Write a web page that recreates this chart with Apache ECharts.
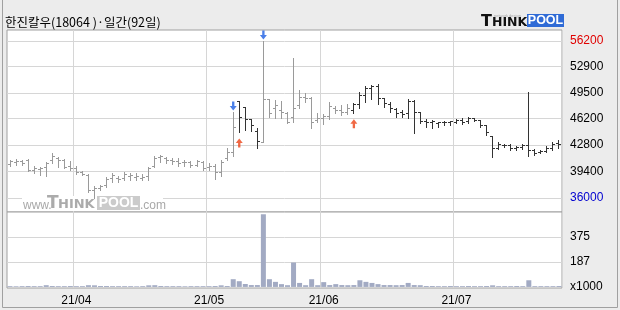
<!DOCTYPE html>
<html><head><meta charset="utf-8">
<script src="https://cdn.jsdelivr.net/npm/echarts@6/dist/echarts.min.js"></script>
<style>html,body{margin:0;padding:0;background:#ececec}#c{width:620px;height:310px}</style>
</head><body><div id="c"></div>
<script>
const title = '한진칼우(18064 )·일간(92일)';
const dates = [
 '21/03/17','21/03/18','21/03/19','21/03/22','21/03/23','21/03/24','21/03/25','21/03/26','21/03/29','21/03/30','21/03/31',
 '21/04/01','21/04/02','21/04/05','21/04/06','21/04/07','21/04/08','21/04/09','21/04/12','21/04/13','21/04/14','21/04/15','21/04/16','21/04/19','21/04/20','21/04/21','21/04/22','21/04/23','21/04/26','21/04/27','21/04/28','21/04/29','21/04/30',
 '21/05/03','21/05/04','21/05/06','21/05/07','21/05/10','21/05/11','21/05/12','21/05/13','21/05/14','21/05/17','21/05/18','21/05/20','21/05/21','21/05/24','21/05/25','21/05/26','21/05/27','21/05/28','21/05/31',
 '21/06/01','21/06/02','21/06/03','21/06/04','21/06/07','21/06/08','21/06/09','21/06/10','21/06/11','21/06/14','21/06/15','21/06/16','21/06/17','21/06/18','21/06/21','21/06/22','21/06/23','21/06/24','21/06/25','21/06/28','21/06/29','21/06/30',
 '21/07/01','21/07/02','21/07/05','21/07/06','21/07/07','21/07/08','21/07/09','21/07/12','21/07/13','21/07/14','21/07/15','21/07/16','21/07/19','21/07/20','21/07/21','21/07/22','21/07/23','21/07/26'
];
const open = [
 40400,40650,40750,40900,39600,39750,40000,40900,41150,40900,
 40100,39850,39350,38950,37050,37300,37650,38550,38550,38550,
 38850,38700,38550,38850,40100,41300,41150,40900,40750,40650,
 40650,40250,40650,40000,40100,39350,41150,41900,48500,47700,
 46150,44600,43200,48750,47600,47350,46950,46400,47950,49000,
 48850,46050,46300,46550,47600,47350,47050,47350,48100,49250,
 50150,50400,48850,48100,47450,47050,46950,48500,47050,45900,
 45800,45650,45800,45800,45800,46050,45900,46300,46050,45400,
 44000,42450,42800,42800,42450,42550,42800,42200,41900,42050,
 42450,43100
];
const high = [
 40900,41000,40900,41000,40100,40000,40650,41800,41300,41000,
 40750,40100,39450,39100,37550,37650,38700,39200,38850,39350,
 39200,39200,39100,40000,41400,41550,41300,41150,41150,40900,
 40750,40900,40750,40500,40400,40900,42450,47050,48500,47700,
 46150,45000,56200,48750,48600,48500,47050,54000,49900,49500,
 49000,46950,46800,48350,47850,47950,48100,48250,49650,50400,
 50550,50650,48850,48350,47600,47350,48750,48600,47050,46150,
 46050,45800,45900,45900,46150,46300,46400,46300,46050,45400,
 44000,43200,42950,42950,42700,42950,49650,42300,42200,42700,
 43200,43450
];
const low = [
 40100,40250,40250,39450,39200,38950,38850,40500,40000,39850,
 39600,39100,38950,36750,36000,37050,37400,38050,38050,38300,
 38300,38300,38300,38300,40000,40650,40500,40400,40100,40100,
 40000,40100,39600,39600,38450,38850,40900,41400,44500,44750,
 44600,42450,43200,46400,46300,46300,45650,45800,47600,48350,
 45000,45800,45500,46150,46950,46700,46800,46950,47600,48350,
 48750,48100,47700,47050,46400,46400,46300,44350,45650,45150,
 45000,45150,45400,45400,45650,45500,45650,45900,45150,44100,
 41300,42300,42550,42200,42200,42300,41400,41550,41800,41900,
 42200,42450
];
const close = [
 40750,40750,40500,39600,39850,39850,40500,41400,40900,40000,
 39850,39350,39100,37050,37300,37550,38450,38950,38450,39100,
 38950,38850,38700,39850,41150,41400,40900,40750,40500,40650,
 40250,40750,39850,40100,39350,40650,41900,45150,46400,46150,
 45400,43350,48750,46950,47950,47050,45800,47600,49000,48850,
 45800,46300,46550,47850,47350,47050,47600,48100,49250,50150,
 50400,48850,48250,47600,46950,46800,48500,47050,45900,45800,
 45900,45800,45800,45900,46050,45800,46300,46050,45400,44500,
 42450,42950,42800,42450,42550,42800,42200,41800,42050,42450,
 42950,42950
];
const volume = [
 6,5,6,7,6,6,13,7,6,6,
 7,6,6,13,12,7,7,6,6,6,
 6,5,6,12,13,7,6,6,6,5,
 6,6,6,6,7,12,7,58,43,22,
 14,14,545,58,38,21,13,183,30,13,
 58,13,36,14,21,14,13,14,50,38,
 30,21,14,14,13,14,30,14,13,7,
 7,6,6,7,6,6,7,6,6,7,
 12,6,6,6,7,6,50,6,6,6,
 6,7
];
const priceTicks = [36000, 39400, 42800, 46200, 49500, 52900, 56200];
const volumeTicks = [0, 187, 375];
const buySignals = [38, 57];
const sellSignals = [37, 42];

const N = dates.length;
const phase = [];
let hold = false;
for (let i = 0; i < N; i++) {
  if (buySignals.includes(i)) hold = true;
  if (sellSignals.includes(i)) hold = false;
  phase.push(hold ? 1 : 0);
}
const ohlc = dates.map((d, i) => [i, open[i], high[i], low[i], close[i], phase[i]]);
const isMonthStart = i => i > 0 && dates[i].slice(0, 5) !== dates[i - 1].slice(0, 5);
const gridColor = '#d6d6d6';
const labelFont = 'Liberation Sans';
const maxTick = Math.max(...priceTicks), minTick = Math.min(...priceTicks);

const chart = echarts.init(document.getElementById('c'), null, {renderer: 'canvas'});
chart.setOption({
  animation: false,
  backgroundColor: '#ececec',
  grid: [
    {left: 7, top: 30, width: 555, height: 182, show: true, backgroundColor: '#fff', borderColor: '#a0a0a0', borderWidth: 1},
    {left: 7, top: 212, width: 555, height: 76, show: true, backgroundColor: '#fff', borderColor: '#a0a0a0', borderWidth: 1}
  ],
  xAxis: [
    {type: 'category', gridIndex: 0, data: dates, boundaryGap: true,
     axisLine: {show: false}, axisTick: {show: false}, axisLabel: {show: false},
     splitLine: {show: true, interval: i => isMonthStart(i), lineStyle: {color: gridColor}}},
    {type: 'category', gridIndex: 1, data: dates, boundaryGap: true,
     axisLine: {show: false}, axisTick: {show: false},
     axisLabel: {interval: i => isMonthStart(i), formatter: v => v.slice(0, 5), margin: 7,
                 color: '#000', fontSize: 12, fontFamily: labelFont},
     splitLine: {show: true, interval: i => isMonthStart(i), lineStyle: {color: gridColor}}}
  ],
  yAxis: [
    {type: 'value', gridIndex: 0, position: 'right', min: 34200, max: 57600,
     axisLine: {show: false}, axisTick: {show: false, customValues: priceTicks},
     axisLabel: {customValues: priceTicks, margin: 8, fontSize: 12, fontFamily: labelFont, color: '#000',
       formatter: v => {
         const n = Number(v);
         if (n === maxTick) return '{hi|' + n + '}';
         if (n === minTick) return '{lo|' + n + '}';
         return '{n|' + n + '}';
       },
       rich: {
         hi: {color: '#e00000', fontSize: 12, fontFamily: labelFont},
         lo: {color: '#0000d0', fontSize: 12, fontFamily: labelFont},
         n: {color: '#000', fontSize: 12, fontFamily: labelFont}
       }},
     splitLine: {show: true, lineStyle: {color: gridColor}}},
    {type: 'value', gridIndex: 1, position: 'right', min: -8, max: 562,
     axisLine: {show: false}, axisTick: {show: false, customValues: volumeTicks.filter(v => v > 0)},
     axisLabel: {customValues: volumeTicks, margin: 8, fontSize: 12, fontFamily: labelFont, color: '#000',
       formatter: v => (Number(v) === 0 ? 'x1000' : String(Number(v)))},
     splitLine: {show: true, lineStyle: {color: gridColor}}}
  ],
  series: [
    {type: 'custom', xAxisIndex: 0, yAxisIndex: 0, data: ohlc, encode: {x: 0, y: [1, 2, 3, 4]}, z: 5, silent: true,
     renderItem: (params, api) => {
       const i = api.value(0);
       const pO = api.coord([i, api.value(1)]);
       const pH = api.coord([i, api.value(2)]);
       const pL = api.coord([i, api.value(3)]);
       const pC = api.coord([i, api.value(4)]);
       const X = Math.floor(pH[0]);
       const x = X + 0.5;
       const color = api.value(5) ? '#333333' : '#9a9a9a';
       const sy = v => Math.round(v) + 0.5;
       const st = {stroke: color, lineWidth: 1};
       return {type: 'group', children: [
         {type: 'line', shape: {x1: x, y1: Math.round(pH[1]), x2: x, y2: Math.round(pL[1]) + 1}, style: st},
         {type: 'line', shape: {x1: X - 2, y1: sy(pO[1]), x2: X + 1, y2: sy(pO[1])}, style: st},
         {type: 'line', shape: {x1: X, y1: sy(pC[1]), x2: X + 3, y2: sy(pC[1])}, style: st}
       ]};
     }},
    {type: 'scatter', xAxisIndex: 0, yAxisIndex: 0, silent: true, z: 6,
     data: sellSignals.map(i => [i, high[i]]),
     symbol: 'path://M3,0 L6,0 L6,5 L9,5 L4.5,10 L0,5 L3,5 Z', symbolSize: [7, 9], symbolOffset: [0, -6],
     itemStyle: {color: '#1d5fe2'}},
    {type: 'scatter', xAxisIndex: 0, yAxisIndex: 0, silent: true, z: 6,
     data: buySignals.map(i => [i, low[i]]),
     symbol: 'path://M4.5,0 L9,5 L6,5 L6,10 L3,10 L3,5 L0,5 Z', symbolSize: [7, 9], symbolOffset: [0, 11],
     itemStyle: {color: '#ec4416'}},
    {type: 'bar', xAxisIndex: 1, yAxisIndex: 1, data: volume, barWidth: 5, silent: true,
     itemStyle: {color: '#a2aac3'}}
  ],
  graphic: [
    {type: 'polyline', shape: {points: [[2.5, 0], [2.5, 307.5], [617.5, 307.5], [617.5, 0]]},
     style: {stroke: '#a0a0a0', fill: null, lineWidth: 1}, z: 10},
    {type: 'text', x: 5, y: 22, style: {text: title, font: '12.5px "Noto Sans CJK KR"', fill: '#000', verticalAlign: 'middle'}, z: 10},
    {type: 'text', x: 494, y: 15.5, style: {text: 'network design', font: '4px "Liberation Sans"', fill: '#aaa', verticalAlign: 'middle'}, z: 10},
    {type: 'text', x: 481, y: 21.5, style: {text: 'T', font: 'bold 16px "DejaVu Sans"', fill: '#111', verticalAlign: 'middle'}, z: 10},
    {type: 'text', x: 492, y: 23, style: {text: 'HINK', font: 'bold 12.5px "DejaVu Sans"', fill: '#111', verticalAlign: 'middle'}, z: 10},
    {type: 'rect', shape: {x: 527, y: 14, width: 37, height: 13}, style: {fill: '#2f6bd6'}, z: 10},
    {type: 'text', x: 545.5, y: 20.5, style: {text: 'POOL', font: 'bold 12.5px "Liberation Sans"', fill: '#fff', align: 'center', verticalAlign: 'middle'}, z: 10},
    {type: 'rect', shape: {x: 22, y: 196, width: 141, height: 15}, style: {fill: '#fff'}, z: 1},
    {type: 'text', x: 23, y: 206, style: {text: 'www.', font: '12px "Liberation Sans"', fill: '#a8a8a8', verticalAlign: 'middle'}, z: 1},
    {type: 'text', x: 47, y: 203.5, style: {text: 'T', font: 'bold 17px "DejaVu Sans"', fill: '#ababab', verticalAlign: 'middle'}, z: 1},
    {type: 'text', x: 58, y: 205, style: {text: 'HINK', font: 'bold 13px "DejaVu Sans"', fill: '#ababab', verticalAlign: 'middle'}, z: 1},
    {type: 'rect', shape: {x: 97, y: 196, width: 43, height: 14}, style: {fill: '#cbcbcb'}, z: 1},
    {type: 'text', x: 118.5, y: 203.5, style: {text: 'POOL', font: 'bold 14px "Liberation Sans"', fill: '#fff', align: 'center', verticalAlign: 'middle'}, z: 1},
    {type: 'text', x: 140, y: 206, style: {text: '.com', font: '12px "Liberation Sans"', fill: '#a8a8a8', verticalAlign: 'middle'}, z: 1}
  ]
});
</script>
</body></html>
